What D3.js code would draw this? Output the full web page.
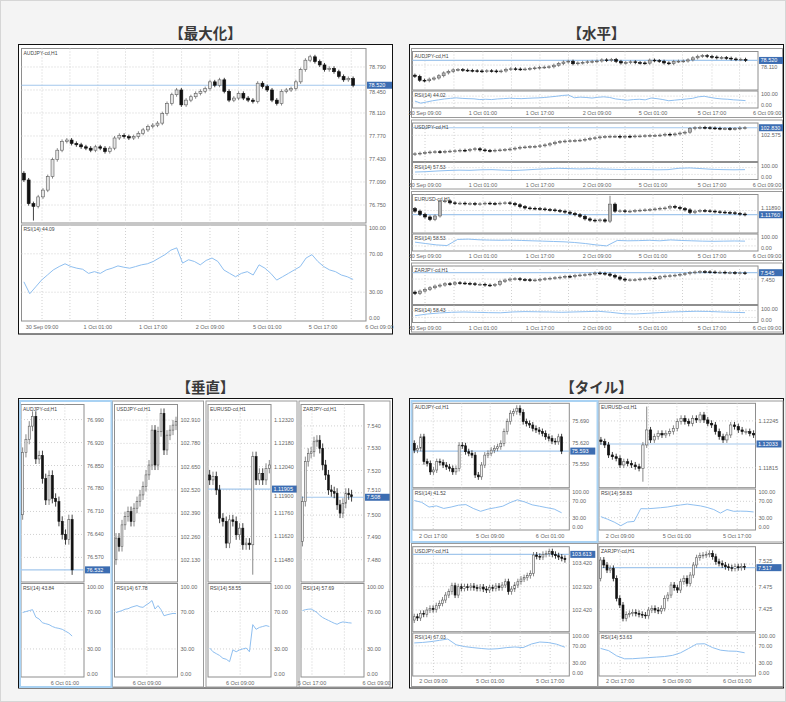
<!DOCTYPE html>
<html>
<head>
<meta charset="utf-8">
<script src="https://cdn.jsdelivr.net/npm/d3@7"></script>
<style>
  body { margin: 0; background: #f4f4f4; }
  svg { display: block; }
  text { font-family: "Liberation Sans", Arial, sans-serif; }
</style>
</head>
<body>
<div id="chart"></div>
<script>
// ---- data (price sequences: candle i runs p[i] -> p[i+1]) ----

// maximized AUDJPY (also reused in the horizontal layout)
const audMax = [77.22, 77.12, 76.77, 76.73, 76.87, 76.97, 77.17, 77.42, 77.56, 77.69,
  77.71, 77.66, 77.64, 77.61, 77.59, 77.56, 77.61, 77.59, 77.54, 77.59,
  77.74, 77.78, 77.76, 77.74, 77.76, 77.81, 77.86, 77.91, 77.93, 77.96,
  78.10, 78.25, 78.38, 78.45, 78.23, 78.30, 78.35, 78.40, 78.43, 78.47,
  78.57, 78.52, 78.60, 78.43, 78.30, 78.33, 78.40, 78.33, 78.30, 78.28,
  78.55, 78.50, 78.45, 78.30, 78.25, 78.43, 78.45, 78.47, 78.57, 78.75,
  78.89, 78.94, 78.87, 78.82, 78.75, 78.77, 78.72, 78.65, 78.60, 78.62, 78.52];
const audMaxRsi = [40.8, 28.4, 35.5, 42.6, 47.9, 53.2, 56.7, 59.6, 56.7, 55, 53.9, 49.6, 51.4, 49.6,
  53.2, 55, 57.4, 56, 55, 56.7, 58.5, 59.6, 62, 65.6, 69.1, 73.8, 76.2, 60.3, 63.8, 62, 58.5,
  63.1, 65.6, 62, 53.2, 49.6, 46.1, 49.6, 51.4, 47.9, 58.5, 55, 49.6, 42.6, 46.1, 49.6, 53.2,
  56.7, 65.6, 69.1, 62, 56.7, 53.2, 51.4, 47.9, 46.1, 43.3];
const audMaxTicks = [78.79, 78.45, 78.11, 77.77, 77.43, 77.09, 76.75];

// horizontal layout
const usdH = [101.93, 101.95, 101.97, 101.99, 102.01, 102.02, 102.01, 102.03, 102.04, 102.05,
  102.07, 102.06, 102.09, 102.12, 102.08, 102.06, 102.05, 102.07, 102.08, 102.09,
  102.11, 102.14, 102.17, 102.18, 102.19, 102.20, 102.22, 102.25, 102.29, 102.34,
  102.36, 102.38, 102.39, 102.40, 102.41, 102.44, 102.47, 102.49, 102.52, 102.53,
  102.54, 102.54, 102.52, 102.54, 102.53, 102.55, 102.55, 102.56, 102.57, 102.57,
  102.58, 102.61, 102.59, 102.62, 102.65, 102.68, 102.80, 102.83, 102.84, 102.83,
  102.82, 102.81, 102.80, 102.80, 102.79, 102.80, 102.82, 102.83];
const eurH = [1.1195, 1.1187, 1.1177, 1.1169, 1.1161, 1.1172, 1.1217, 1.1219, 1.1213, 1.1211,
  1.1212, 1.1210, 1.1211, 1.1209, 1.1210, 1.1212, 1.1211, 1.1210, 1.1212, 1.1213,
  1.1211, 1.1207, 1.1201, 1.1197, 1.1196, 1.1195, 1.1194, 1.1192, 1.1191, 1.1189,
  1.1187, 1.1184, 1.1180, 1.1176, 1.1171, 1.1163, 1.1159, 1.1157, 1.1160, 1.1156,
  1.1209, 1.1187, 1.1188, 1.1186, 1.1187, 1.1189, 1.1190, 1.1191, 1.1192, 1.1194,
  1.1196, 1.1197, 1.1202, 1.1199, 1.1195, 1.1191, 1.1183, 1.1187, 1.1189, 1.1188,
  1.1187, 1.1185, 1.1184, 1.1183, 1.1182, 1.1180, 1.1178, 1.1176];
const zarH = [7.255, 7.235, 7.270, 7.295, 7.320, 7.345, 7.360, 7.380, 7.375, 7.395,
  7.390, 7.385, 7.380, 7.370, 7.372, 7.360, 7.355, 7.368, 7.415, 7.435,
  7.450, 7.455, 7.442, 7.440, 7.432, 7.436, 7.445, 7.455, 7.462, 7.470,
  7.478, 7.490, 7.486, 7.505, 7.510, 7.515, 7.525, 7.540, 7.535, 7.525,
  7.505, 7.480, 7.450, 7.435, 7.438, 7.440, 7.450, 7.455, 7.465, 7.462,
  7.485, 7.495, 7.500, 7.508, 7.520, 7.530, 7.545, 7.555, 7.560, 7.558,
  7.555, 7.550, 7.552, 7.545, 7.546, 7.540, 7.542, 7.535];
const usdHRsi = [44, 46, 50, 53, 55, 54, 57, 58, 55, 53, 56, 60, 63, 66, 64, 62, 64, 62, 60, 58, 60, 59, 57, 58, 66, 68, 64, 60, 58, 57, 58];
const eurHRsi = [52, 44, 36, 32, 68, 70, 66, 64, 63, 64, 62, 60, 58, 56, 54, 50, 44, 36, 30, 62, 60, 61, 63, 60, 65, 62, 60, 58, 57, 58, 59, 58];
const zarHRsi = [40, 50, 56, 60, 62, 60, 58, 57, 62, 64, 63, 62, 60, 62, 64, 66, 60, 52, 50, 54, 58, 62, 64, 66, 65, 62, 60, 58];

// vertical layout
const audV = [76.70, 76.89, 76.93, 76.97, 77.00, 76.87, 76.88, 76.81, 76.745, 76.82, 76.75, 76.74, 76.68, 76.64, 76.624, 76.685, 76.532];
const usdV = [102.130, 102.251, 102.204, 102.325, 102.371, 102.399, 102.344, 102.418, 102.455, 102.492, 102.539,
  102.604, 102.659, 102.854, 102.659, 102.845, 102.947, 102.743, 102.826, 102.854, 102.882, 102.901];
const eurV = [1.1199, 1.1196, 1.1198, 1.1190, 1.1173, 1.1171, 1.1158, 1.1172, 1.1171, 1.1163,
  1.1167, 1.1157, 1.1158, 1.1157, 1.1210, 1.1196, 1.1200, 1.1196, 1.1203, 1.1205];
const zarV = [7.4882, 7.5061, 7.5240, 7.5277, 7.5284, 7.5329, 7.5336, 7.5299, 7.5225, 7.5180,
  7.5113, 7.5105, 7.5098, 7.5046, 7.5009, 7.5053, 7.5098, 7.5091, 7.5083];
const audVRsi = [69, 70, 71, 72, 64, 62, 58, 57, 56, 54, 52.7, 52, 51, 49, 47, 43.8];
const usdVRsi = [69, 70, 71, 72.5, 73, 74.5, 75.5, 76.4, 75, 74.5, 77, 79, 81.8, 72.7, 76.4, 72, 65.5, 66.5, 67.3, 68, 67.8];
const eurVRsi = [31, 27, 25, 23, 20, 19, 16.4, 29, 27, 29, 30, 31, 27, 56, 51, 53, 54, 55, 54];
const zarVRsi = [71, 72, 72.5, 72.7, 71, 69, 66, 63.6, 62, 60.5, 59, 57.5, 56.4, 58, 58.9, 58.5, 58, 57.7];
const audVTicks = [76.99, 76.92, 76.85, 76.78, 76.71, 76.64, 76.57];
const usdVTicks = [102.91, 102.78, 102.65, 102.52, 102.39, 102.26, 102.13];
const eurVTicks = [1.1232, 1.1218, 1.1204, 1.1190, 1.1176, 1.1162, 1.1148];
const zarVTicks = [7.54, 7.53, 7.52, 7.51, 7.50, 7.49, 7.48];

// tile layout
const audT = [75.618, 75.596, 75.602, 75.639, 75.559, 75.553, 75.526, 75.532, 75.559, 75.556,
  75.548, 75.542, 75.537, 75.526, 75.537, 75.612, 75.610, 75.591, 75.586, 75.580,
  75.516, 75.510, 75.548, 75.580, 75.586, 75.596, 75.602, 75.607, 75.618, 75.656,
  75.688, 75.715, 75.720, 75.731, 75.718, 75.688, 75.682, 75.677, 75.666, 75.661,
  75.656, 75.650, 75.639, 75.634, 75.625, 75.623, 75.639, 75.593];
const eurT = [1.12070, 1.12054, 1.12024, 1.11932, 1.11916, 1.11901, 1.11840, 1.11870, 1.11855, 1.11840,
  1.11824, 1.11809, 1.12024, 1.12162, 1.12070, 1.12100, 1.12131, 1.12116, 1.12131, 1.12147,
  1.12177, 1.12239, 1.12269, 1.12239, 1.12223, 1.12269, 1.12254, 1.12300, 1.12254, 1.12223,
  1.12208, 1.12147, 1.12100, 1.12070, 1.12116, 1.12208, 1.12193, 1.12162, 1.12147, 1.12147,
  1.12131, 1.12116];
const usdT = [102.206, 102.277, 102.250, 102.349, 102.330, 102.420, 102.456, 102.430, 102.513, 102.563,
  102.634, 102.741, 102.813, 102.941, 102.741, 102.920, 102.884, 102.920, 102.899, 102.934,
  102.899, 102.884, 102.913, 102.870, 102.849, 102.899, 102.884, 102.934, 102.899, 102.956,
  103.027, 102.813, 102.870, 102.956, 103.027, 103.084, 103.113, 103.156, 103.206, 103.599,
  103.570, 103.556, 103.613, 103.627, 103.670, 103.613, 103.584, 103.556, 103.527, 103.499];
const zarT = [7.4934, 7.5338, 7.5228, 7.5117, 7.5154, 7.4934, 7.4493, 7.4346, 7.4052, 7.4140,
  7.4162, 7.4184, 7.4162, 7.4140, 7.4125, 7.4110, 7.4235, 7.4272, 7.4235, 7.4213,
  7.4272, 7.4493, 7.4566, 7.4787, 7.4728, 7.4676, 7.4860, 7.4934, 7.4823, 7.5007,
  7.5228, 7.5389, 7.5434, 7.5448, 7.5463, 7.5485, 7.5411, 7.5301, 7.5264, 7.5228,
  7.5191, 7.5169, 7.5154, 7.5191, 7.5169, 7.5198, 7.5183];
const audTRsi = [71.9, 67.5, 56, 58.8, 52.6, 56, 60.5, 62, 52.6, 45.6, 51, 54.4, 58, 66.7, 73.7, 68.4, 61.4, 58, 54.4, 51, 42];
const eurTRsi = [32.5, 26.3, 19.3, 10.5, 19.3, 21, 52, 51.8, 53, 54.4, 56, 58.8, 61, 63.2, 61, 58.8, 55, 50, 41.2, 50, 45.6, 46, 45.6, 44];
const usdTRsi = [76.9, 78, 80, 82.9, 86, 72.6, 68.4, 66, 64, 62.4, 63.5, 66, 67.5, 66, 74.4, 79, 77.8, 74, 67];
const zarTRsi = [64.1, 59, 47, 40, 40.2, 41.5, 42.7, 44, 45.3, 48, 54, 64, 74.4, 75, 66, 60, 58, 57.5, 54];

// time axis labels
const weekLabels = ["30 Sep 09:00", "1 Oct 01:00", "1 Oct 17:00", "2 Oct 09:00", "5 Oct 01:00", "5 Oct 17:00", "6 Oct 09:00"];
const rsiLevels = [100, 70, 30, 0];

// ---- drawing ----
const svg = d3.select("#chart")
  .append("svg")
  .attr("width", 786)
  .attr("height", 702);

svg.append("rect")
  .attr("x", 0.5).attr("y", 0.5).attr("width", 785).attr("height", 701)
  .attr("fill", "#f4f4f4").attr("stroke", "#d6d6d6");

// black frames round each layout
[[18.5, 44.5], [409.5, 44.5], [18.5, 398.5], [409.5, 398.5]].forEach(([fx, fy]) => {
  svg.append("rect")
    .attr("x", fx).attr("y", fy).attr("width", 374).attr("height", 289.5)
    .attr("fill", "#fff").attr("stroke", "#111");
});

// titles
[["【最大化】", 205.5, 32], ["【水平】", 596.5, 32], ["【垂直】", 205.5, 386], ["【タイル】", 596.5, 386]].forEach(([t, tx, ty]) => {
  svg.append("text")
    .attr("x", tx).attr("y", ty)
    .attr("text-anchor", "middle")
    .attr("dominant-baseline", "central")
    .style("font-family", "'Noto Sans CJK JP', sans-serif")
    .style("font-size", "14.5px")
    .style("font-weight", "bold")
    .attr("fill", "#3a3a3a")
    .text(t);
});

// chart window borders
function win(wx, wy, ww, wh, active) {
  svg.append("rect")
    .attr("x", wx).attr("y", wy).attr("width", ww).attr("height", wh)
    .attr("fill", "none")
    .attr("stroke", active ? "#a9d2f3" : "#9a9a9a")
    .attr("stroke-width", active ? 2 : 1);
}

let clipId = 0;

function drawChart(c) {
  const g = svg.append("g").style("font-size", "5.5px");
  const n = c.prices.length - 1;
  const x = d3.scaleLinear().domain([-0.5, c.xEnd]).range([c.left, c.right]);
  const y = d3.scaleLinear().domain(c.domain).range([c.mid, c.top]);
  const r = d3.scaleLinear().domain([0, 100]).range([c.bottom, c.rsiTop]);
  const bw = Math.max(1, (x(1) - x(0)) * 0.62);
  const fmt = d3.format("." + c.digits + "f");
  const bullFill = c.bullFill || "#f0f0f0";

  // price window + RSI window
  [[c.top, c.mid], [c.rsiTop, c.bottom]].forEach(([t, b]) => {
    g.append("rect")
      .attr("x", c.left).attr("y", t)
      .attr("width", c.right - c.left).attr("height", b - t)
      .attr("fill", "#fff").attr("stroke", "#8e8e8e");
  });

  const id = "clip" + (clipId++);
  g.append("clipPath").attr("id", id)
    .append("rect")
    .attr("x", c.left).attr("y", c.top)
    .attr("width", c.right - c.left).attr("height", c.mid - c.top);

  // dotted grid (time ticks plus halfway lines)
  const grid = g.append("g")
    .attr("stroke", "#d0d0d0")
    .attr("stroke-dasharray", "1,2");
  const gridIdx = c.xTicks.flatMap((t, k) => k ? [(c.xTicks[k - 1] + t) / 2, t] : [t])
    .filter(i => x(i) < c.right - 1 && x(i) > c.left + 1);
  gridIdx.forEach(i => {
    [[c.top, c.mid], [c.rsiTop, c.bottom]].forEach(([t, b]) => {
      grid.append("line").attr("x1", x(i)).attr("x2", x(i)).attr("y1", t).attr("y2", b);
    });
  });
  c.yTicks.forEach(v => {
    grid.append("line").attr("x1", c.left).attr("x2", c.right).attr("y1", y(v)).attr("y2", y(v));
  });
  [70, 30].forEach(v => {
    grid.append("line").attr("x1", c.left).attr("x2", c.right).attr("y1", r(v)).attr("y2", r(v));
  });

  // bid line
  if (c.current != null) {
    g.append("line")
      .attr("x1", c.left).attr("x2", c.right)
      .attr("y1", y(c.current)).attr("y2", y(c.current))
      .attr("stroke", "#a3c7ec").attr("stroke-width", 1.2);
  }

  // candles
  const spikes = c.spikes || [];
  g.append("g").attr("clip-path", `url(#${id})`)
    .selectAll("g")
    .data(d3.range(n))
    .join("g")
    .each(function(i) {
      const o = c.prices[i], cl = c.prices[i + 1];
      const up = cl >= o;
      const sp = spikes.find(s => s.i === i) || {};
      const yTop = y(Math.max(o, cl)), yBot = y(Math.min(o, cl));
      const cg = d3.select(this);
      cg.append("line")
        .attr("x1", x(i)).attr("x2", x(i))
        .attr("y1", sp.hi != null ? y(sp.hi) : yTop - c.wick)
        .attr("y2", sp.lo != null ? y(sp.lo) : yBot + c.wick)
        .attr("stroke", up ? "#6a6a6a" : "#111")
        .attr("stroke-width", 0.8);
      cg.append("rect")
        .attr("x", x(i) - bw / 2).attr("y", yTop)
        .attr("width", bw).attr("height", Math.max(0.8, yBot - yTop))
        .attr("fill", up ? bullFill : "#111")
        .attr("stroke", up ? "#5c5c5c" : "#111")
        .attr("stroke-width", 0.6);
    });

  // RSI line
  const xr = d3.scaleLinear().domain([0, c.rsi.length - 1]).range([x(0), x(n - 1)]);
  g.append("path")
    .datum(c.rsi)
    .attr("fill", "none")
    .attr("stroke", "#8fbff0")
    .attr("stroke-width", 1)
    .attr("d", d3.line().x((d, k) => xr(k)).y(d => r(d)));

  // price scale labels, nudged clear of the price tag
  const labelY = v => {
    if (c.current != null) {
      const dy = y(v) - y(c.current);
      if (Math.abs(dy) < 7) return y(c.current) + (dy < 0 ? -7 : 7) + 2;
    }
    return y(v) + 2;
  };
  g.selectAll(".yl")
    .data(c.yTicks)
    .join("text")
    .attr("x", c.right + 3)
    .attr("y", labelY)
    .attr("fill", "#666")
    .text(fmt);

  g.selectAll(".rl")
    .data(c.rsiTicks)
    .join("text")
    .attr("x", c.right + 3)
    .attr("y", v => Math.min(c.bottom - 1, Math.max(c.rsiTop + 5, r(v) + 2)))
    .attr("fill", "#666")
    .text(v => d3.format(".2f")(v));

  // current price tag
  if (c.current != null) {
    g.append("rect")
      .attr("x", c.right + 1).attr("y", y(c.current) - 3.5)
      .attr("width", c.boxW || 24).attr("height", 7)
      .attr("fill", "#3c6db2");
    g.append("text")
      .attr("x", c.right + 2.5).attr("y", y(c.current) + 2)
      .attr("fill", "#fff")
      .text(fmt(c.current));
  }

  // symbol and indicator captions
  g.append("text").attr("x", c.left + 2).attr("y", c.top + 6).attr("fill", "#444")
    .style("font-size", "5px").text(c.symbol);
  g.append("text").attr("x", c.left + 2).attr("y", c.rsiTop + 6).attr("fill", "#444")
    .style("font-size", "5px").text(c.rsiLabel);

  // time labels
  c.xTicks.forEach((t, k) => {
    g.append("text")
      .attr("x", x(t)).attr("y", c.labelY)
      .attr("text-anchor", "middle")
      .attr("fill", "#666")
      .text(c.xLabels[k]);
  });
}

// ---- maximized ----
drawChart({
  prices: audMax, domain: [76.484, 79.063], yTicks: audMaxTicks, digits: 3, current: 78.52,
  left: 21.5, right: 366, top: 48.5, mid: 223, rsiTop: 225, bottom: 321, labelY: 328.5,
  xEnd: 71.7, xTicks: [3.8, 15.5, 27.1, 39, 51, 62.7, 74.5], xLabels: weekLabels,
  rsi: audMaxRsi, rsiTicks: rsiLevels, symbol: "AUDJPY-cd,H1", rsiLabel: "RSI(14) 44.09",
  wick: 2, spikes: [{ i: 2, lo: 76.52 }], boxW: 25, bullFill: "#e4e4e4"
});

// ---- horizontal ----
const hTops = [51.5, 123, 194.5, 266];
const hIdxA = [2.1, 14.2, 26.1, 38, 49.7, 62, 73.5];
const hIdx = [2, 13.6, 25, 36.4, 47.6, 59.4, 70.4];
const hCharts = [
  { prices: audMax, domain: [75.91, 79.31], yTicks: [78.11], digits: 3, current: 78.52, xEnd: 71.6, xTicks: hIdxA,
    rsi: audMaxRsi, symbol: "AUDJPY-cd,H1", rsiLabel: "RSI(14) 44.02" },
  { prices: usdH, domain: [101.69, 102.99], yTicks: [102.575], digits: 3, current: 102.83, xEnd: 68.6, xTicks: hIdx,
    rsi: usdHRsi, symbol: "USDJPY-cd,H1", rsiLabel: "RSI(14) 57.53" },
  { prices: eurH, domain: [1.1119, 1.1239], yTicks: [1.1189], digits: 5, current: 1.1176, xEnd: 68.6, xTicks: hIdx,
    rsi: eurHRsi, symbol: "EURUSD-cd,H1", rsiLabel: "RSI(14) 58.53", spikes: [{ i: 39, hi: 1.1235, lo: 1.1150 }] },
  { prices: zarH, domain: [7.07, 7.645], yTicks: [7.45], digits: 3, current: 7.545, xEnd: 68.6, xTicks: hIdx,
    rsi: zarHRsi, symbol: "ZARJPY-cd,H1", rsiLabel: "RSI(14) 58.43" }
];
hCharts.forEach((c, k) => {
  const t = hTops[k];
  win(411.5, t - 3, 371, 69, false);
  drawChart(Object.assign({
    left: 412.5, right: 758, top: t, mid: t + 38.5, rsiTop: t + 39.5, bottom: t + 56.5, labelY: t + 63.5,
    xLabels: weekLabels, rsiTicks: [100, 0], wick: 1.6, bullFill: "#b8b8b8"
  }, c));
});

// ---- vertical ----
const vLefts = [21, 114.5, 208, 301];
const vCharts = [
  { prices: audV, domain: [76.495, 77.036], yTicks: audVTicks, digits: 3, current: 76.532, xEnd: 18.6,
    xTicks: [12.8], xLabels: ["6 Oct 01:00"], rsi: audVRsi, symbol: "AUDJPY-cd,H1", rsiLabel: "RSI(14) 43.84" },
  { prices: usdV, domain: [102.006, 102.997], yTicks: usdVTicks, digits: 3, current: null, xEnd: 20.5,
    xTicks: [10.3], xLabels: ["6 Oct 09:00"], rsi: usdVRsi, symbol: "USDJPY-cd,H1", rsiLabel: "RSI(14) 67.78" },
  { prices: eurV, domain: [1.11346, 1.12414], yTicks: eurVTicks, digits: 5, current: 1.11905, xEnd: 18.5,
    xTicks: [9.2], xLabels: ["6 Oct 09:00"], rsi: eurVRsi, symbol: "EURUSD-cd,H1", rsiLabel: "RSI(14) 58.55",
    spikes: [{ i: 13, lo: 1.1139 }] },
  { prices: zarV, domain: [7.47, 7.5496], yTicks: zarVTicks, digits: 3, current: 7.508, xEnd: 21.3,
    xTicks: [3.3, 25.7], xLabels: ["5 Oct 17:00", "6 Oct 09:00"], rsi: zarVRsi, symbol: "ZARJPY-cd,H1", rsiLabel: "RSI(14) 57.69" }
];
vCharts.forEach((c, k) => {
  const l = vLefts[k];
  drawChart(Object.assign({
    left: l, right: l + 63, top: 404.5, mid: 582, rsiTop: 583.5, bottom: 677, labelY: 684.5,
    rsiTicks: rsiLevels, wick: 5, boxW: 25
  }, c));
  if (k > 0) win(l - 2, 401, 91, 286, false);
});
win(20, 401, 91.5, 286, true);

// ---- tile ----
const tiles = [
  { left: 412.7, right: 569.3, top: 403.3, mid: 487.7, rsiTop: 489, bottom: 530, labelY: 537.5,
    prices: audT, domain: [75.475, 75.747], yTicks: [75.69, 75.62, 75.55], digits: 3, current: 75.593, xEnd: 48.4,
    xTicks: [5.9, 23.7, 42.4], xLabels: ["2 Oct 17:00", "5 Oct 09:00", "6 Oct 01:00"],
    rsi: audTRsi, symbol: "AUDJPY-cd,H1", rsiLabel: "RSI(14) 41.52" },
  { left: 599, right: 755.5, top: 403.3, mid: 487.7, rsiTop: 489, bottom: 530, labelY: 537.5,
    prices: eurT, domain: [1.11631, 1.12407], yTicks: [1.12245, 1.11815], digits: 5, current: 1.12033, xEnd: 40.5,
    xTicks: [5, 19.9, 35.7], xLabels: ["2 Oct 09:00", "5 Oct 01:00", "5 Oct 17:00"],
    rsi: eurTRsi, symbol: "EURUSD-cd,H1", rsiLabel: "RSI(14) 58.83",
    spikes: [{ i: 11, lo: 1.11686 }, { i: 12, hi: 1.12377 }] },
  { left: 412.7, right: 569.3, top: 546.7, mid: 631.7, rsiTop: 633, bottom: 676, labelY: 683,
    prices: usdT, domain: [101.956, 103.777], yTicks: [103.42, 102.92, 102.42], digits: 3, current: 103.613, xEnd: 49.4,
    xTicks: [6.1, 24.2, 43.3], xLabels: ["2 Oct 09:00", "5 Oct 01:00", "5 Oct 17:00"],
    rsi: usdTRsi, symbol: "USDJPY-cd,H1", rsiLabel: "RSI(14) 67.03" },
  { left: 599, right: 755.5, top: 546.7, mid: 631.7, rsiTop: 633, bottom: 676, labelY: 683,
    prices: zarT, domain: [7.3758, 7.5632], yTicks: [7.525, 7.475, 7.425], digits: 3, current: 7.517, xEnd: 48.4,
    xTicks: [6.1, 23.9, 42.7], xLabels: ["2 Oct 17:00", "5 Oct 09:00", "6 Oct 01:00"],
    rsi: zarTRsi, symbol: "ZARJPY-cd,H1", rsiLabel: "RSI(14) 53.63" }
];
tiles.forEach(c => drawChart(Object.assign({ rsiTicks: rsiLevels, wick: 3, boxW: 25 }, c)));
win(598, 401, 185, 141, false);
win(411.5, 543.5, 186, 143, false);
win(598, 543.5, 185, 143, false);
win(411.5, 401, 186, 141, true);
</script>
</body>
</html>
